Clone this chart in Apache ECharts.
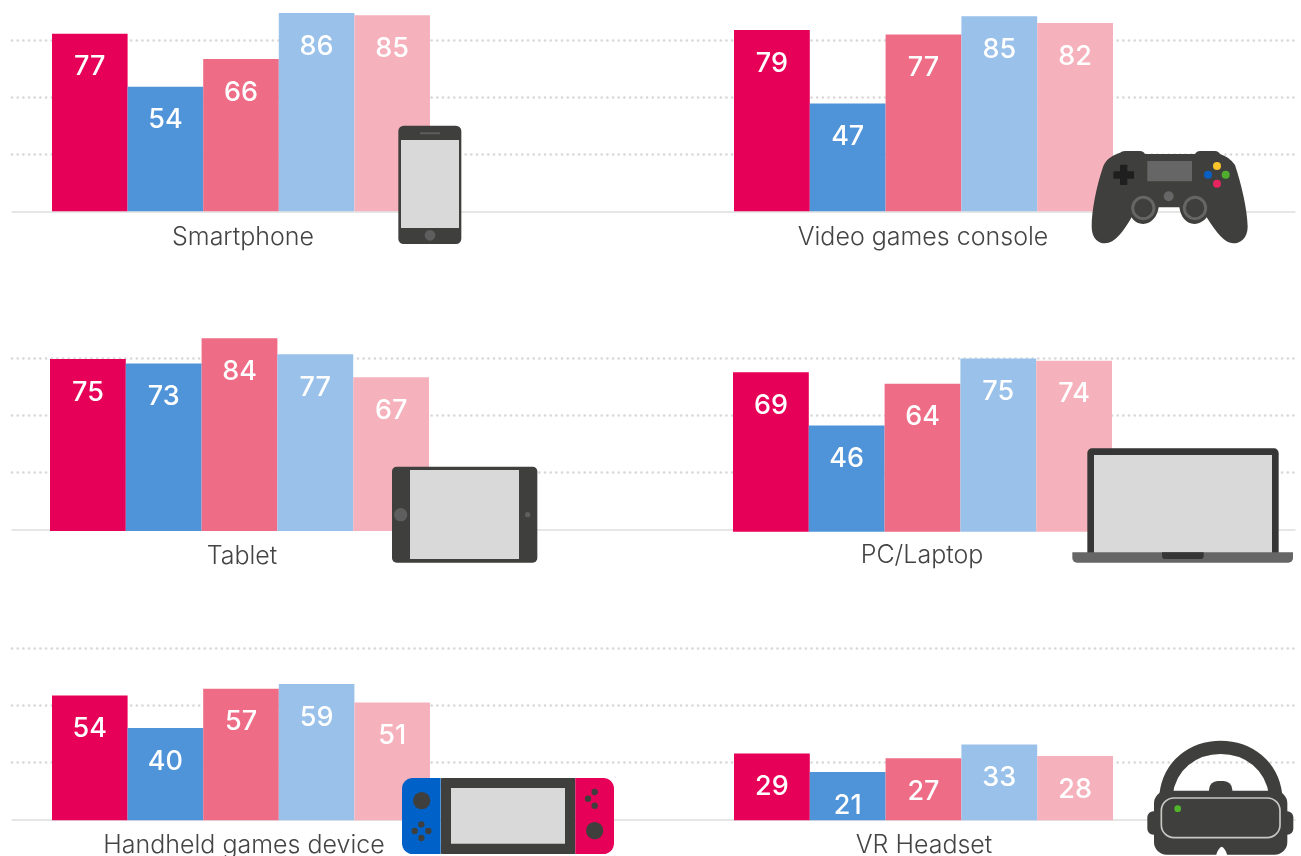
<!DOCTYPE html>
<html>
<head>
<meta charset="utf-8">
<script src="https://cdn.jsdelivr.net/npm/echarts@6/dist/echarts.min.js"></script>
<style>html,body{margin:0;padding:0;background:#fff;overflow:hidden}#c{width:1301px;height:856px}</style>
</head>
<body>
<div id="c"></div>
<script>
const categories = ['Smartphone','Video games console','Tablet','PC/Laptop','Handheld games device','VR Headset'];
const seriesA = [77,79,75,69,54,29];
const seriesB = [54,47,73,46,40,21];
const seriesC = [66,77,84,64,57,27];
const seriesD = [86,85,77,75,59,33];
const seriesE = [85,82,67,74,51,28];
const gridTicks = [25,50,75];

const allSeries = [seriesA,seriesB,seriesC,seriesD,seriesE];
const colors = ['#E60057','#4F93D9','#EE6C85','#99C1E9','#F6B2BC'];
// panel layout: left, right, baseline y, px per unit, label shift, label margin
const panels = [
  [52,430,211.2,2.305,2,14],[734,1113,211.3,2.295,-0.5,14],
  [50,429,531,2.295,2.5,12.5],[733,1112,531.7,2.31,-0.5,11.5],
  [52,430,820.3,2.31,3,13],[734,1113,820.3,2.30,0.5,13]
];
const rows = [[40,211.7],[358.3,529.6],[648,819.6]];
const fontFamily = 'Inter, "Open Sans", sans-serif';

const grid=[],xAxis=[],yAxis=[],series=[];
rows.forEach(r=>{
  const i=grid.length;
  grid.push({left:12,width:1283,top:r[0],height:r[1]-r[0],outerBoundsMode:'none'});
  xAxis.push({gridIndex:i,type:'category',data:[''],axisTick:{show:false},axisLabel:{show:false},
    axisLine:{show:true,lineStyle:{color:'#DEDEDE',width:1.5}}});
  yAxis.push({gridIndex:i,type:'value',min:0,max:gridTicks[2],interval:gridTicks[0],axisLine:{show:false},axisTick:{show:false},axisLabel:{show:false},
    splitLine:{show:true,showMinLine:false,lineStyle:{color:'#D8D8D8',width:2.6,type:[0.1,5.57],cap:'round'}}});
});
panels.forEach((p,k)=>{
  const i=grid.length, max=90;
  grid.push({left:p[0],width:p[1]-p[0],top:p[2]-max*p[3],height:max*p[3],outerBoundsMode:'none'});
  xAxis.push({gridIndex:i,type:'category',data:[categories[k]],axisLine:{show:false},axisTick:{show:false},
    axisLabel:{show:true,interval:0,margin:p[5],color:'#444444',fontFamily,fontSize:25,fontWeight:300,
      padding:p[4]>0?[0,0,0,2*p[4]]:[0,-2*p[4],0,0]}});
  yAxis.push({gridIndex:i,type:'value',min:0,max,show:false,splitLine:{show:false}});
  allSeries.forEach((s,j)=>series.push({type:'bar',xAxisIndex:i,yAxisIndex:i,data:[s[k]],barGap:0,barCategoryGap:0,silent:true,
    itemStyle:{color:colors[j]},
    label:{show:true,position:['50%',33.5],align:'center',verticalAlign:'middle',color:'#fff',fontFamily,fontSize:27,fontWeight:500}}));
});

// device icons, drawn in zoom units (1/3 px) around an origin
const D='#3F3F3D',G='#D9D9D9',M='#5E5E5E';
const rect=(x1,y1,x2,y2,fill,r=0,extra={})=>({type:'rect',shape:{x:x1,y:y1,width:x2-x1,height:y2-y1,r},style:{fill,...extra}});
const circ=(cx,cy,r,fill,extra={})=>({type:'circle',shape:{cx,cy,r},style:{fill,...extra}});
let pathCount=0;
const path=(d,style)=>{
  const name='iconPath'+(pathCount++);
  echarts.graphic.registerShape(name,echarts.graphic.extendPath(d,{}));
  return {type:name,style};
};
const icon=(x,y,children)=>({type:'group',x,y,scaleX:1/3,scaleY:1/3,silent:true,children:children.map(c=>({...c,z:100,silent:true}))});
const graphic=[
  icon(0,0,[ // phone
    rect(1195,377,1384,732,D,16),rect(1203,420,1377,684,G),
    rect(1260,397,1320,403,M,2),circ(1290,706,16,M)]),
  icon(1060,130,[ // controller
    path('M180 68 Q185 63 195 63 L240 63 Q250 63 255 72 L405 72 Q410 63 420 63 L465 63 Q475 63 480 72 Q510 82 525 105 C545 165 562 240 563 290 C563 325 540 340 520 340 C495 340 470 310 440 262 C435 270 420 282 403 282 C380 282 362 262 358 232 L296 232 C292 262 272 282 250 282 C232 282 220 272 215 262 C190 305 165 340 135 340 C115 340 95 325 95 290 C95 240 110 165 130 108 C140 85 160 75 180 68 Z',{fill:D}),
    rect(160,124,222,146,'#1F1F1F',2),rect(180,104,202,165,'#1F1F1F',2),
    rect(262,93,396,154,'#666666'),circ(326,199,15,'#666666'),
    circ(250,234,32,D,{stroke:'#666666',lineWidth:9}),circ(405,234,32,D,{stroke:'#666666',lineWidth:9}),
    circ(471,108,12,'#F9C52A'),circ(444,134,12,'#0A5FC4'),circ(497,134,12,'#4FAE2D'),circ(471,161,12,'#E8245F')]),
  icon(380,450,[ // tablet
    rect(36,50,472,338,D,14),rect(90,60,417,327,G),circ(62,194,20,M),circ(443,194,8,M)]),
  icon(1060,440,[ // laptop
    rect(82,25,656,345,'#363636',[14,14,0,0]),rect(102,45,636,340,G),
    rect(37,337,699,368,'#666666',[0,0,14,14]),rect(306,337,431,357,'#363636',[0,0,10,10])]),
  icon(390,766,[ // handheld
    rect(36,36,152,264,'#0062C8',[32,0,0,32]),rect(153,36,556,264,D,2),rect(183,66,525,233,G),
    rect(556,36,672,264,'#E60057',[0,32,32,0]),
    circ(95,104,26,D),circ(94,175,9.5,D),circ(74,195,9.5,D),circ(115,195,9.5,D),circ(94,216,9.5,D),
    circ(614,78,9.5,D),circ(594,98,9.5,D),circ(614,119,9.5,D),circ(614,194,26,D)]),
  icon(1130,730,[ // headset
    path('M108 195 C118 105 190 52 272 52 C354 52 426 105 437 195',{fill:'none',stroke:D,lineWidth:40}),
    rect(237,153,307,210,D,26),rect(72,182,472,374,D,38),rect(52,244,490,314,D,18),
    path('M258 378 C262 358 272 350 275 350 C278 350 288 358 292 378 Z',{fill:'#fff'}),
    rect(94,204,450,323,D,38,{stroke:'#C8C8C4',lineWidth:5}),circ(143,236,10,'#4FB52A')])
];

const chart=echarts.init(document.getElementById('c'),null,{renderer:'canvas'});
chart.setOption({animation:false,backgroundColor:'#fff',grid,xAxis,yAxis,series,graphic});
</script>
</body>
</html>
